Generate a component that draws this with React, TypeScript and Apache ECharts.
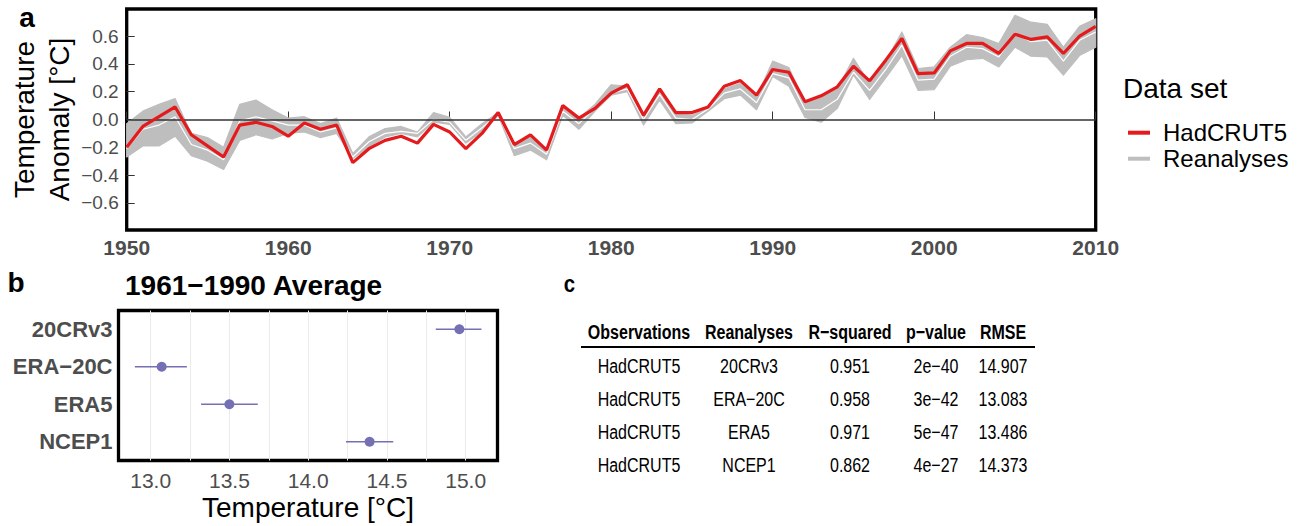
import React, { useEffect, useRef } from 'react';
import * as echarts from 'echarts';

const FONT = "'Liberation Sans', Arial, sans-serif";
const MINUS = '\u2212';

const years = [
  1950, 1951, 1952, 1953, 1954, 1955, 1956, 1957, 1958, 1959,
  1960, 1961, 1962, 1963, 1964, 1965, 1966, 1967, 1968, 1969,
  1970, 1971, 1972, 1973, 1974, 1975, 1976, 1977, 1978, 1979,
  1980, 1981, 1982, 1983, 1984, 1985, 1986, 1987, 1988, 1989,
  1990, 1991, 1992, 1993, 1994, 1995, 1996, 1997, 1998, 1999,
  2000, 2001, 2002, 2003, 2004, 2005, 2006, 2007, 2008, 2009, 2010,
];

const hadcrut5 = [
  -0.20, -0.05, 0.02, 0.09, -0.11, -0.19, -0.27, -0.04, -0.02, -0.05,
  -0.12, -0.025, -0.07, -0.04, -0.31, -0.21, -0.15, -0.12, -0.17, -0.035,
  -0.09, -0.21, -0.10, 0.05, -0.18, -0.11, -0.22, 0.10, 0.01, 0.08,
  0.19, 0.25, 0.03, 0.22, 0.05, 0.05, 0.09, 0.24, 0.28, 0.175,
  0.36, 0.34, 0.127, 0.17, 0.235, 0.383, 0.278, 0.427, 0.583, 0.33,
  0.335, 0.494, 0.547, 0.547, 0.475, 0.614, 0.576, 0.594, 0.475, 0.60, 0.67,
];

const reanalysesLow = [
  -0.27, -0.19, -0.19, -0.12, -0.26, -0.30, -0.36, -0.15, -0.11, -0.14,
  -0.10, -0.09, -0.13, -0.10, -0.28, -0.20, -0.125, -0.10, -0.125, -0.02,
  -0.035, -0.17, -0.09, 0.03, -0.26, -0.22, -0.29, 0.03, -0.07, 0.06,
  0.175, 0.20, -0.04, 0.14, -0.03, -0.025, 0.06, 0.15, 0.175, 0.07,
  0.31, 0.24, 0.015, -0.02, 0.08, 0.32, 0.144, 0.30, 0.46, 0.21,
  0.215, 0.383, 0.43, 0.44, 0.378, 0.52, 0.455, 0.45, 0.32, 0.46, 0.52,
];

const reanalysesHigh = [
  -0.03, 0.06, 0.11, 0.15, -0.10, -0.13, -0.20, 0.11, 0.14, 0.07,
  0.01, 0.02, -0.03, 0.01, -0.245, -0.125, -0.065, -0.05, -0.09, 0.05,
  0.015, -0.125, -0.03, 0.05, -0.17, -0.125, -0.21, 0.095, 0.01, 0.11,
  0.25, 0.24, 0.045, 0.21, 0.045, 0.03, 0.09, 0.22, 0.26, 0.16,
  0.42, 0.374, 0.12, 0.16, 0.22, 0.44, 0.26, 0.42, 0.63, 0.367,
  0.378, 0.52, 0.61, 0.59, 0.547, 0.75, 0.70, 0.685, 0.52, 0.67, 0.725,
];

const reanalysesMid = [
  -0.21, -0.07, -0.04, 0.02, -0.18, -0.22, -0.29, -0.01, 0.02, -0.01,
  -0.04, -0.04, -0.09, -0.06, -0.27, -0.16, -0.10, -0.085, -0.10, 0.0,
  -0.02, -0.15, -0.06, 0.04, -0.21, -0.17, -0.25, 0.06, -0.03, 0.08,
  0.19, 0.22, 0.0, 0.18, 0.01, 0.0, 0.075, 0.19, 0.22, 0.12,
  0.33, 0.30, 0.07, 0.07, 0.145, 0.34, 0.21, 0.36, 0.535, 0.283,
  0.29, 0.455, 0.52, 0.51, 0.45, 0.62, 0.56, 0.57, 0.42, 0.57, 0.63,
];

const anomalyTicks = [-0.6, -0.4, -0.2, 0, 0.2, 0.4, 0.6];

const datasets = ['20CRv3', 'ERA' + MINUS + '20C', 'ERA5', 'NCEP1'];
const avgMean = [14.96, 13.07, 13.50, 14.39];
const avgLow = [14.81, 12.90, 13.32, 14.24];
const avgHigh = [15.10, 13.23, 13.68, 14.54];
const avgLabelTicks = [13, 13.5, 14, 14.5, 15];
const avgGridTicks = [13, 13.25, 13.5, 13.75, 14, 14.25, 14.5, 14.75, 15];

const tableHeader = ['Observations', 'Reanalyses', 'R' + MINUS + 'squared', 'p' + MINUS + 'value', 'RMSE'];
const colObservations = ['HadCRUT5', 'HadCRUT5', 'HadCRUT5', 'HadCRUT5'];
const colReanalyses = ['20CRv3', 'ERA' + MINUS + '20C', 'ERA5', 'NCEP1'];
const colRsquared = ['0.951', '0.958', '0.971', '0.862'];
const colPvalue = ['2e' + MINUS + '40', '3e' + MINUS + '42', '5e' + MINUS + '47', '4e' + MINUS + '27'];
const colRmse = ['14.907', '13.083', '13.486', '14.373'];

const fmtSigned = (v: number) => {
  const s = Math.abs(v).toFixed(1);
  return v < -1e-9 ? MINUS + s : s;
};

function txt(text: string, x: number, y: number, opts: any = {}) {
  const align = opts.align || 'left';
  return {
    type: 'text',
    x,
    y,
    scaleX: opts.scaleX || 1,
    silent: true,
    style: {
      text,
      fill: opts.color || '#000',
      fontSize: opts.size || 20,
      fontWeight: opts.weight || 'normal',
      fontFamily: FONT,
      textAlign: align,
      align,
      textVerticalAlign: 'middle',
      verticalAlign: 'middle',
    },
  };
}

export default function App() {
  const ref = useRef<HTMLDivElement>(null);

  useEffect(() => {
    if (!ref.current) return;
    const chart = echarts.init(ref.current, undefined, { renderer: 'svg' });

    const colX = [639, 749, 850, 936, 1003];
    const rowY = [366.3, 399.2, 432.5, 465.8];
    const columns = [colObservations, colReanalyses, colRsquared, colPvalue, colRmse];
    const NARROW_SCALE = 0.8;

    const tableEls: any[] = [];
    tableHeader.forEach((h, i) => {
      tableEls.push(txt(h, colX[i], 332.5, { align: 'center', size: 20, weight: 'bold', scaleX: NARROW_SCALE }));
    });
    columns.forEach((col, ci) => {
      col.forEach((v, ri) => {
        tableEls.push(txt(v, colX[ci], rowY[ri], { align: 'center', size: 20, scaleX: NARROW_SCALE }));
      });
    });
    tableEls.push({
      type: 'line',
      silent: true,
      shape: { x1: 581, y1: 347, x2: 1035, y2: 347 },
      style: { stroke: '#000', lineWidth: 2.2 },
    });

    const purple = '#7570b3';

    const option: any = {
      animation: false,
      textStyle: { fontFamily: FONT },
      grid: [
        { left: 126.7, top: 9, width: 969, height: 221, show: true, borderColor: '#000', borderWidth: 3.3, backgroundColor: 'rgba(0,0,0,0)', containLabel: false, outerBoundsMode: 'none' },
        { left: 118.5, top: 310.5, width: 379, height: 150, show: true, borderColor: '#000', borderWidth: 3.3, backgroundColor: 'rgba(0,0,0,0)', containLabel: false, outerBoundsMode: 'none' },
      ],
      xAxis: [
        {
          gridIndex: 0,
          type: 'value',
          min: 1950,
          max: 2010,
          interval: 10,
          axisLine: { show: false },
          axisTick: { show: true, inside: true, length: 8, lineStyle: { color: '#333', width: 1 } },
          axisLabel: { color: '#4d4d4d', fontSize: 21, fontWeight: 'bold', margin: 7, fontFamily: FONT, formatter: (v: number) => String(v) },
          splitLine: { show: false },
        },
        {
          gridIndex: 1,
          type: 'value',
          min: 12.796,
          max: 15.202,
          axisLine: { show: false },
          axisTick: { show: false, customValues: avgGridTicks },
          axisLabel: {
            customValues: avgLabelTicks,
            formatter: (v: number) => v.toFixed(1),
            color: '#4d4d4d',
            fontSize: 21,
            margin: 9,
            fontFamily: FONT,
          },
          splitLine: { show: true, lineStyle: { color: '#ebebeb', width: 1 } },
          name: 'Temperature [°C]',
          nameLocation: 'middle',
          nameGap: 33,
          nameMoveOverlap: false,
          nameTextStyle: { color: '#000', fontSize: 28, fontFamily: FONT },
        },
      ],
      yAxis: [
        {
          gridIndex: 0,
          type: 'value',
          min: -0.795,
          max: 0.795,
          axisLine: { show: false },
          axisTick: { show: true, inside: true, length: 8, customValues: anomalyTicks, lineStyle: { color: '#333', width: 1 } },
          axisLabel: { customValues: anomalyTicks, formatter: fmtSigned, color: '#4d4d4d', fontSize: 19, margin: 8, fontFamily: FONT },
          splitLine: { show: false },
          name: 'Temperature\nAnomaly [°C]',
          nameLocation: 'middle',
          nameGap: 50,
          nameRotate: 90,
          nameMoveOverlap: false,
          nameTextStyle: { color: '#000', fontSize: 28, lineHeight: 35, fontFamily: FONT },
        },
        {
          gridIndex: 1,
          type: 'category',
          data: datasets,
          inverse: true,
          axisLine: { show: false },
          axisTick: { show: false },
          axisLabel: { color: '#4d4d4d', fontSize: 22, fontWeight: 'bold', margin: 6, fontFamily: FONT },
          splitLine: { show: false },
        },
      ],
      legend: {
        data: [
          { name: 'HadCRUT5', icon: 'rect', itemStyle: { color: '#e41a1c' } },
          { name: 'Reanalyses', icon: 'rect', itemStyle: { color: '#bebebe' } },
        ],
        orient: 'vertical',
        left: 1123,
        top: 114.7,
        itemWidth: 22,
        itemHeight: 4,
        itemGap: 0,
        selectedMode: false,
        textStyle: { fontSize: 24, color: '#000', lineHeight: 26, padding: [0, 0, 0, 8], fontFamily: FONT },
      },
      graphic: [
        txt('a', 27, 17, { align: 'center', size: 28, weight: 'bold' }),
        txt('Data set', 1123, 88, { size: 28 }),
        txt('b', 16, 282, { align: 'center', size: 28, weight: 'bold' }),
        txt('1961' + MINUS + '1990 Average', 125, 285, { size: 28, weight: 'bold' }),
        txt('c', 569.5, 283.5, { align: 'center', size: 24, weight: 'bold', scaleX: 0.85 }),
        ...tableEls,
      ],
      series: [
        {
          type: 'custom',
          name: 'Reanalyses',
          xAxisIndex: 0,
          yAxisIndex: 0,
          data: years.map((y, i) => [y, reanalysesLow[i], reanalysesHigh[i]]),
          encode: { x: 0, y: [1, 2] },
          itemStyle: { color: '#bebebe' },
          silent: true,
          z: 2,
          renderItem: (params: any, api: any) => {
            if (params.dataIndex !== 0) return null;
            const pts: number[][] = [];
            for (let i = 0; i < years.length; i++) pts.push(api.coord([years[i], reanalysesHigh[i]]));
            for (let i = years.length - 1; i >= 0; i--) pts.push(api.coord([years[i], reanalysesLow[i]]));
            return {
              type: 'polygon',
              shape: { points: pts },
              style: { fill: '#bebebe', stroke: '#bebebe', lineWidth: 1.2, lineJoin: 'round' },
            };
          },
        },
        {
          type: 'line',
          name: 'reanalysesMean',
          xAxisIndex: 0,
          yAxisIndex: 0,
          data: years.map((y, i) => [y, reanalysesMid[i]]),
          symbol: 'none',
          lineStyle: { color: '#ffffff', width: 1.2 },
          z: 3,
          silent: true,
          markLine: {
            silent: true,
            symbol: ['none', 'none'],
            label: { show: false },
            lineStyle: { color: '#333', width: 1.6, type: 'solid' },
            data: [{ yAxis: 0 }],
          },
        },
        {
          type: 'line',
          name: 'HadCRUT5',
          xAxisIndex: 0,
          yAxisIndex: 0,
          data: years.map((y, i) => [y, hadcrut5[i]]),
          symbol: 'none',
          lineStyle: { color: '#e41a1c', width: 3.2 },
          itemStyle: { color: '#e41a1c' },
          z: 5,
          silent: true,
        },
        {
          type: 'custom',
          name: 'average',
          xAxisIndex: 1,
          yAxisIndex: 1,
          data: datasets.map((_, i) => [i, avgLow[i], avgHigh[i], avgMean[i]]),
          encode: { x: [1, 2, 3], y: 0 },
          silent: true,
          z: 5,
          renderItem: (params: any, api: any) => {
            const c = api.value(0);
            const lo = api.coord([api.value(1), c]);
            const hi = api.coord([api.value(2), c]);
            const m = api.coord([api.value(3), c]);
            return {
              type: 'group',
              children: [
                { type: 'line', shape: { x1: lo[0], y1: lo[1], x2: hi[0], y2: hi[1] }, style: { stroke: purple, lineWidth: 1.5 } },
                { type: 'circle', shape: { cx: m[0], cy: m[1], r: 5 }, style: { fill: purple } },
              ],
            };
          },
        },
      ],
    };

    chart.setOption(option);
    return () => chart.dispose();
  }, []);

  return (
    <div
      ref={ref}
      style={{ position: 'fixed', left: 0, top: 0, width: 1304, height: 526, background: '#fff' }}
    />
  );
}
